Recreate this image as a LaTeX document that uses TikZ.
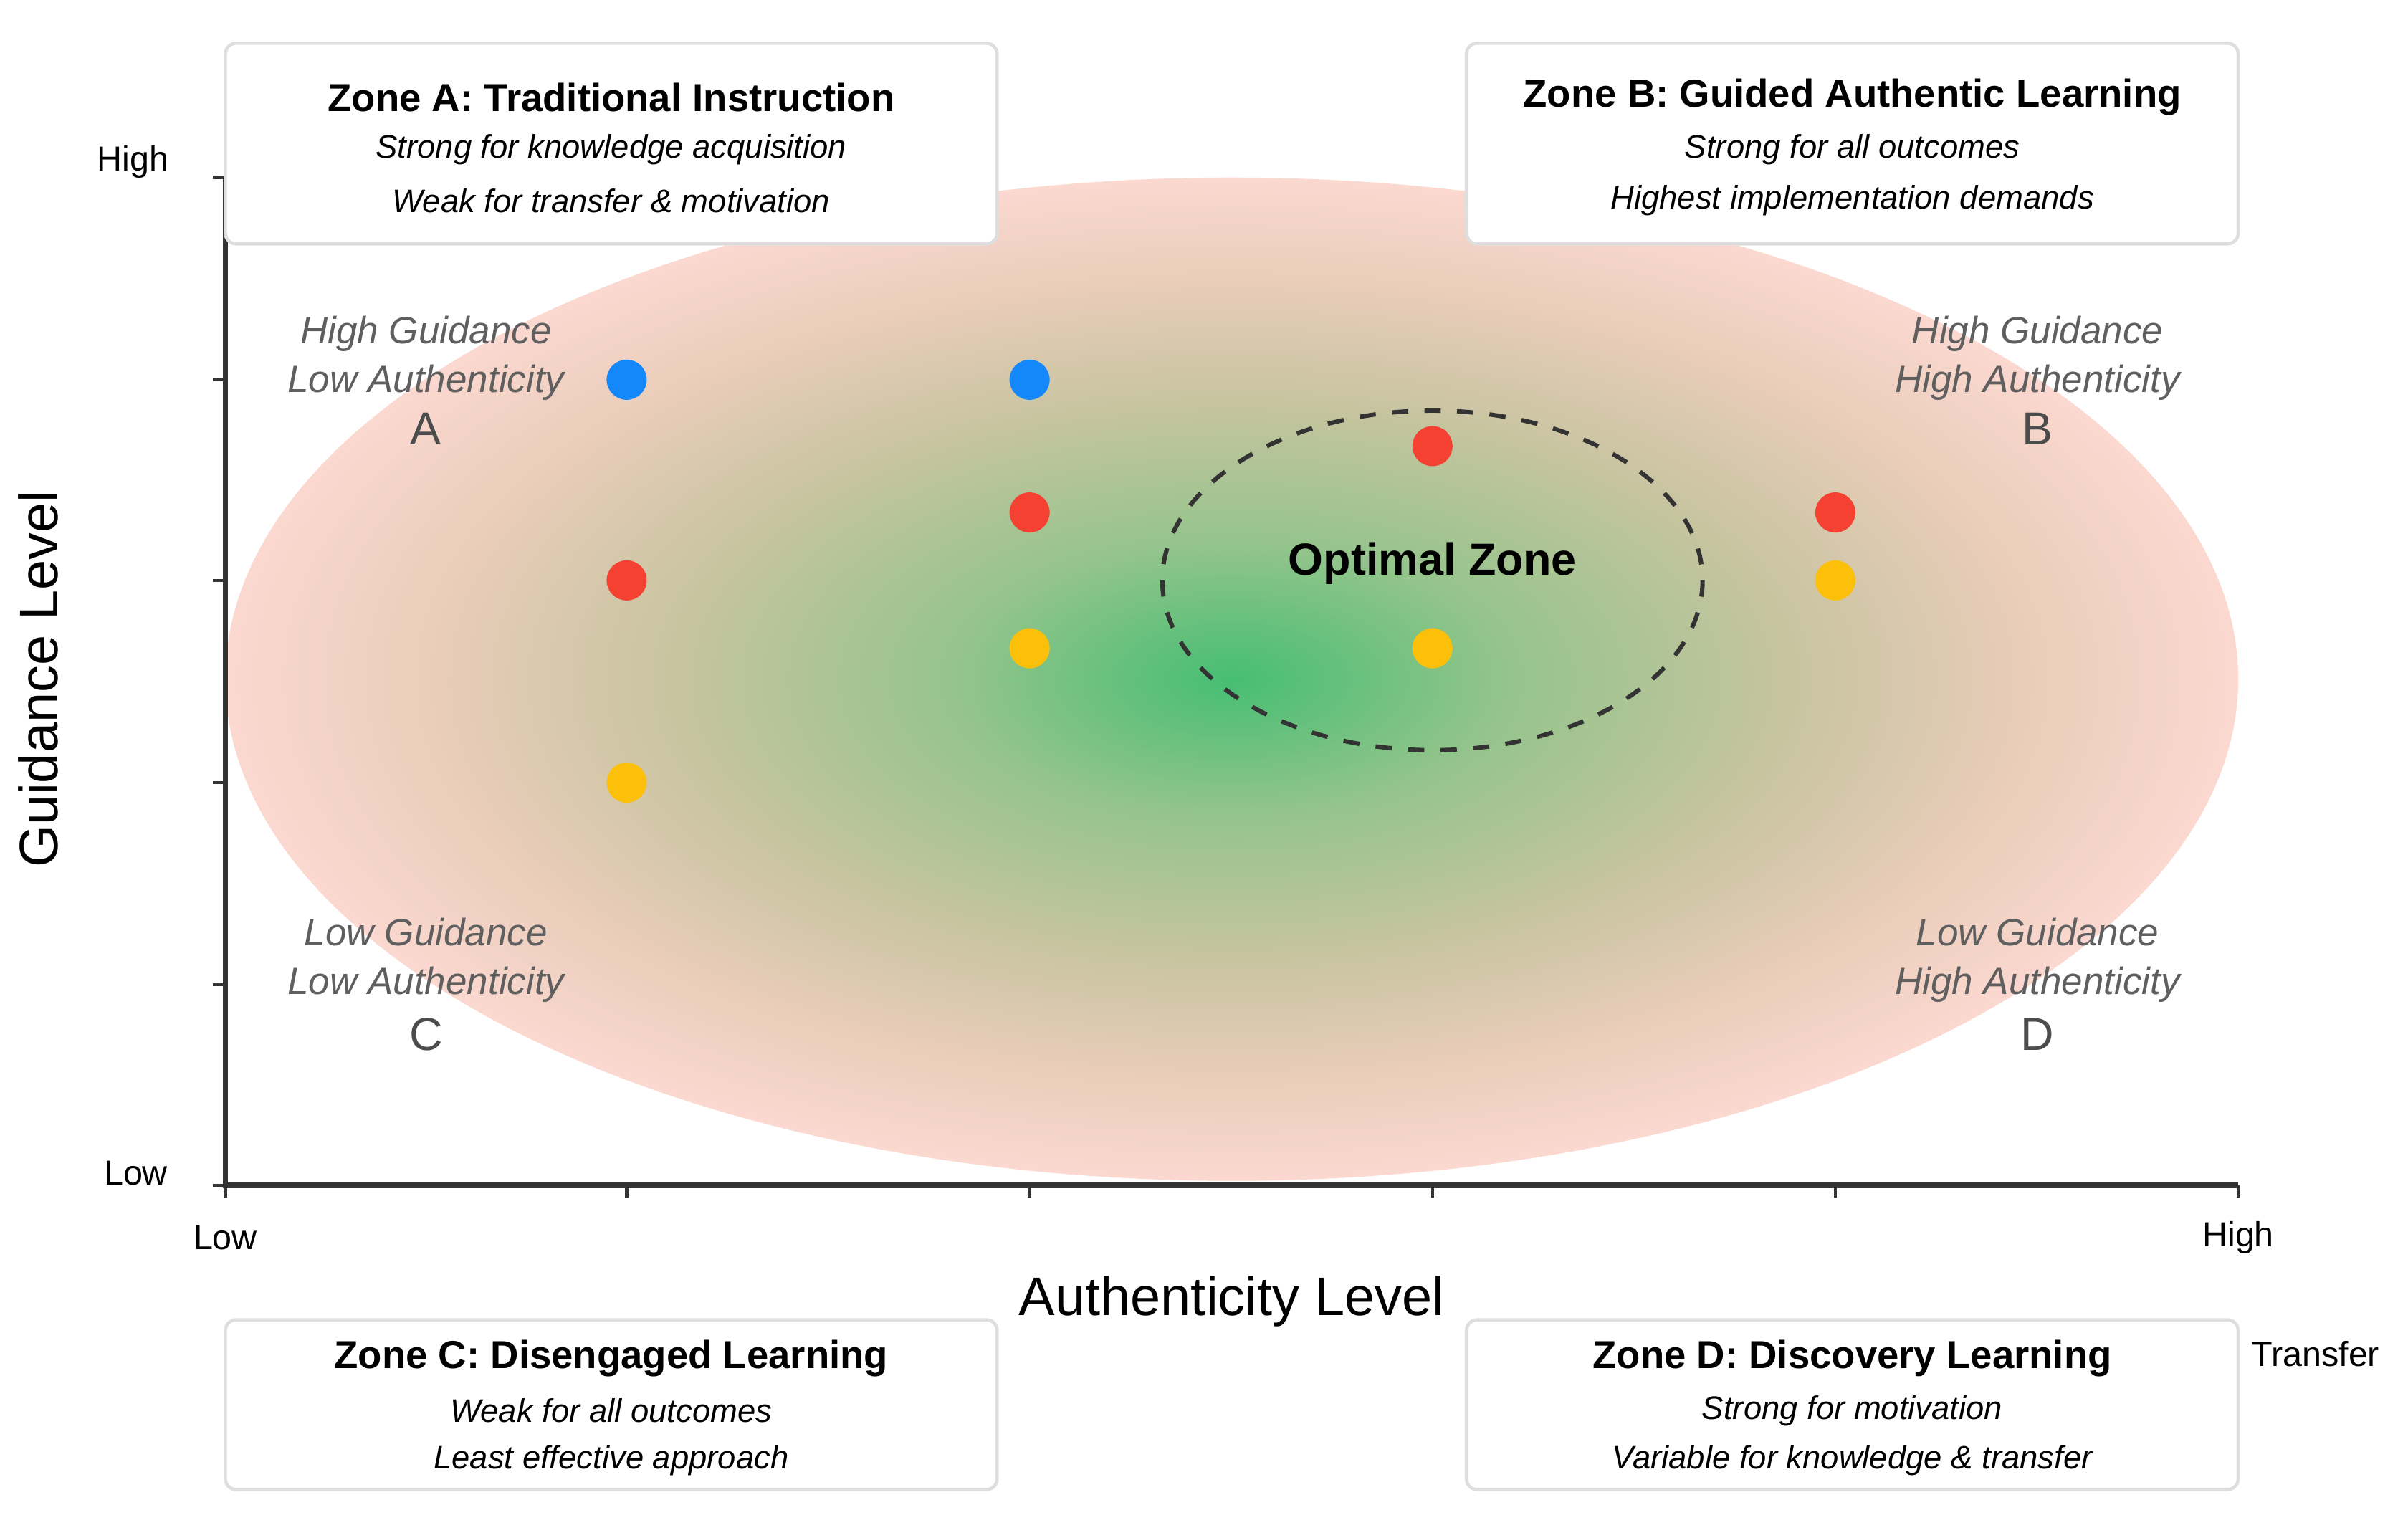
\documentclass[tikz,border=0pt]{standalone}
\usepackage{fontspec}
\setmainfont{Liberation Sans}
\definecolor{cgreen}{RGB}{70,190,115}
\definecolor{cg2}{RGB}{150,196,140}
\definecolor{ctan}{RGB}{200,196,160}
\definecolor{cpt}{RGB}{234,205,186}
\definecolor{cpink}{RGB}{251,216,208}
\definecolor{dblue}{RGB}{20,135,250}
\definecolor{dred}{RGB}{245,65,50}
\definecolor{dyel}{RGB}{252,192,10}
\definecolor{lbl}{RGB}{95,95,95}
\definecolor{bord}{RGB}{222,222,222}
\pgfdeclareradialshading{zone}{\pgfpoint{0bp}{0bp}}{color(0bp)=(cgreen); color(7bp)=(cg2); color(14bp)=(ctan); color(20bp)=(cpt); color(25bp)=(cpink); color(50bp)=(cpink)}
\begin{document}
\begin{tikzpicture}[x=0.01cm,y=-0.01cm,
  dot/.style={circle,inner sep=0pt,minimum size=0.26cm},
  zbox/.style={draw=bord,fill=white,rounded corners=2pt,line width=0.6pt},
  ztitle/.style={font=\fontsize{7.2}{8}\selectfont\bfseries},
  zline/.style={font=\fontsize{6}{7}\selectfont\itshape},
  corner/.style={font=\fontsize{7}{9}\selectfont\itshape,text=lbl,align=center},
  letter/.style={font=\fontsize{8.5}{9}\selectfont,text=black!70},
  tick/.style={font=\fontsize{6.4}{7}\selectfont}]
\useasboundingbox (0,0) rectangle (1560,981.5);
% background zone
\shade[shading=zone] (798,440) ellipse [x radius=652,y radius=325];
% optimal zone
\draw[dashed,line width=0.8pt,black!80] (928,376) ellipse [x radius=175,y radius=110];
\node[font=\fontsize{8.3}{9}\selectfont\bfseries] (opt) at (928,365) {Optimal Zone};
% axes
\coordinate (o) at (146,768);
\coordinate (ytop) at (146,115);
\coordinate (xend) at (1450,768);
\draw[line width=1pt,black!80] (ytop) -- (o) -- (xend);
\foreach \x in {146,406,667,928,1189,1450} \draw[black!80,line width=0.6pt] (\x,768) -- (\x,776);
\foreach \y in {115,246,376,507,638,768} \draw[black!80,line width=0.6pt] (146,\y) -- (138,\y);
\node[tick] (yh) at (86,105) {High};
\node[tick] (yl) at (88,760) {Low};
\node[tick] (xl) at (146,802) {Low};
\node[tick] (xh) at (1450,802) {High};
\node[font=\fontsize{10}{11}\selectfont] (xt) at (798,843) {Authenticity Level};
\node[font=\fontsize{10}{11}\selectfont,rotate=90] (yt) at (25,440) {Guidance Level};
\node[tick] (tr) at (1500,877) {Transfer};
% dots
\node[dot,fill=dblue] (b1) at (406,246) {};
\node[dot,fill=dblue] (b2) at (667,246) {};
\node[dot,fill=dred] (r1) at (406,376) {};
\node[dot,fill=dred] (r2) at (667,332) {};
\node[dot,fill=dred] (r3) at (928,289) {};
\node[dot,fill=dred] (r4) at (1189,332) {};
\node[dot,fill=dyel] (y1) at (406,507) {};
\node[dot,fill=dyel] (y2) at (667,420) {};
\node[dot,fill=dyel] (y3) at (928,420) {};
\node[dot,fill=dyel] (y4) at (1189,376) {};
% corner labels
\node[corner] (ca) at (276,232) {High Guidance\\Low Authenticity};
\node[letter] (la) at (276,278) {A};
\node[corner] (cb) at (1320,232) {High Guidance\\High Authenticity};
\node[letter] (lb) at (1320,278) {B};
\node[corner] (cc) at (276,622) {Low Guidance\\Low Authenticity};
\node[letter] (lc) at (276,670) {C};
\node[corner] (cd) at (1320,622) {Low Guidance\\High Authenticity};
\node[letter] (ld) at (1320,670) {D};
% zone boxes
\draw[zbox] (146,28) rectangle (646,158);
\node[ztitle] (ta) at (396,63) {Zone A: Traditional Instruction};
\node[zline] (ta1) at (396,97) {Strong for knowledge acquisition};
\node[zline] (ta2) at (396,130) {Weak for transfer \& motivation};
\draw[zbox] (950,28) rectangle (1450,158);
\node[ztitle] (tb) at (1200,63) {Zone B: Guided Authentic Learning};
\node[zline] (tb1) at (1200,97) {Strong for all outcomes};
\node[zline] (tb2) at (1200,130) {Highest implementation demands};
\draw[zbox] (146,855) rectangle (646,965);
\node[ztitle] (tc) at (396,880) {Zone C: Disengaged Learning};
\node[zline] (tc1) at (396,914) {Weak for all outcomes};
\node[zline] (tc2) at (396,946) {Least effective approach};
\draw[zbox] (950,855) rectangle (1450,965);
\node[ztitle] (td) at (1200,880) {Zone D: Discovery Learning};
\node[zline] (td1) at (1200,914) {Strong for motivation};
\node[zline] (td2) at (1200,946) {Variable for knowledge \& transfer};
\end{tikzpicture}
\end{document}
